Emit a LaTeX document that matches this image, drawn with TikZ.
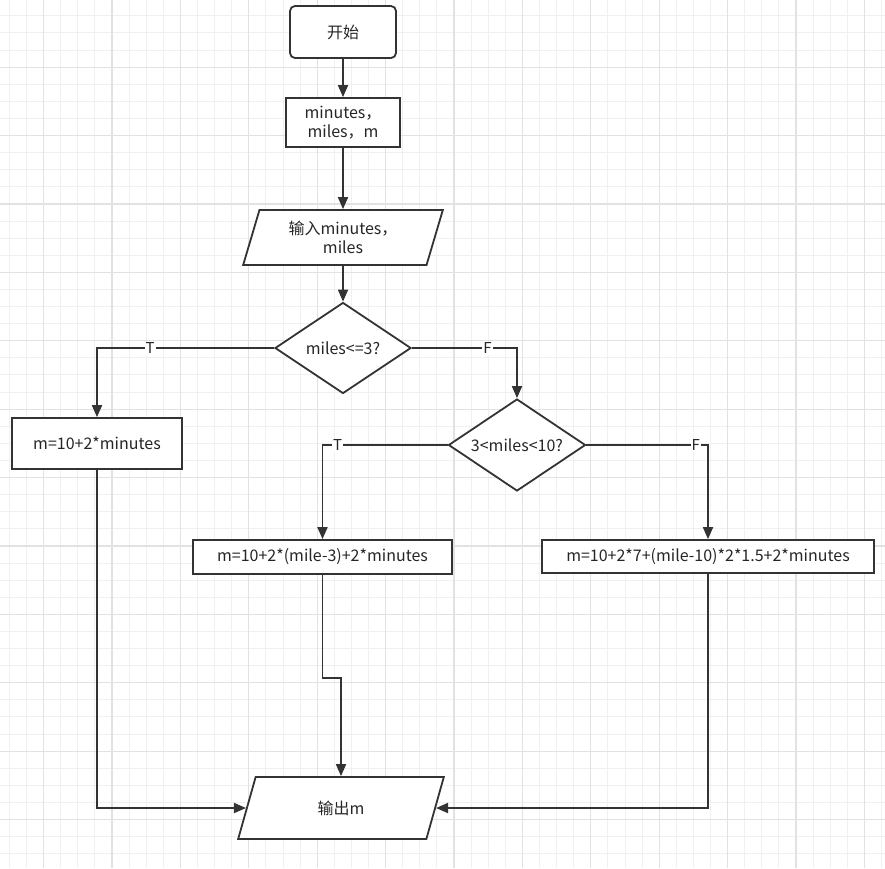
\documentclass[tikz,border=0pt]{standalone}
\usepackage{fontspec}
\setmainfont{Noto Sans CJK SC}
\usepackage{tikz}
\usetikzlibrary{positioning, arrows.meta, shapes.geometric}
\definecolor{lineGray}{HTML}{333333}
\definecolor{gridMinor}{HTML}{F0F0F0}
\definecolor{gridMajor}{HTML}{E2E2E2}
\tikzset{%
  >={Triangle[width=10pt,length=12pt]},
  % Specifications for style of nodes:
            base/.style = {rectangle, draw=lineGray, line width=1.8pt, fill=white,
                           inner sep=0pt, text centered, align=center,
                           text=black!85, font=\fontsize{16}{19}\selectfont},
            startstop/.style = {base, rounded corners=5pt},
            process/.style = {base},
            io/.style = {base, trapezium, trapezium left angle=72,
                         trapezium right angle=108, trapezium stretches=true},
            decision/.style = {base, diamond, aspect=1.5},
            flow/.style = {->, draw=lineGray, line width=1.8pt},
            branch/.style = {fill=white, inner sep=1pt, text=black!85,
                             font=\fontsize{15}{15}\selectfont},
 }

\begin{document}
\begin{tikzpicture}[x=1pt, y=1pt]
  \useasboundingbox (0,0) rectangle (885,-868);
  \fill[white] (0,0) rectangle (885,-868);
  % background grid
  \foreach \k in {0,...,51}
     \draw[gridMinor, line width=1pt] ({9.4+17.1*\k},0) -- ++(0,-868);
  \foreach \k in {1,...,50}
     \draw[gridMinor, line width=1pt] (0,{1.3-17.1*\k}) -- ++(885,0);
  \foreach \k in {0,...,12}
     \draw[gridMajor, line width=1.2pt] ({43.6+68.4*\k},0) -- ++(0,-868);
  \foreach \k in {1,...,12}
     \draw[gridMajor, line width=1.2pt] (0,{1.3-68.4*\k}) -- ++(885,0);

  % Specification of nodes (position, etc.)
     \node (start) [startstop, minimum width=106pt, minimum height=52pt] at (343,-32) {开始};
     \node (vars) [process, minimum width=114pt, minimum height=49pt] at (343,-122.5) {minutes，\\miles，m};
     \node (input) [io, minimum width=200pt, minimum height=55pt] at (343,-237.5) {输入minutes，\\miles};
     \node (milesSel) [decision, minimum width=136pt, minimum height=91pt] at (343,-348) {miles<=3?};

     \node (calcShort) [process, minimum width=170pt, minimum height=51pt] at (97,-443.5) {m=10+2*minutes};
     \node (milesMid) [decision, minimum width=137pt, minimum height=92pt] at (517,-445) {3<miles<10?};
     \node (calcMid) [process, minimum width=259pt, minimum height=34pt] at (322.5,-557) {m=10+2*(mile-3)+2*minutes};
     \node (calcLong) [process, minimum width=332pt, minimum height=33pt] at (708,-556.5) {m=10+2*7+(mile-10)*2*1.5+2*minutes};

     \node (output) [io, minimum width=206pt, minimum height=62pt] at (341,-808) {输出m};


     \draw[flow] (start) -- (vars);
     \draw[flow] (vars) -- (input);
     \draw[flow] (input) -- (milesSel);

     \draw[flow] (milesSel.west) -| node[branch, pos=0.35] {T} (calcShort.north);
     \draw[flow] (milesSel.east) -| node[branch, pos=0.36] {F} (milesMid.north);

     \draw[flow] (milesMid.west) -| node[branch, pos=0.44] {T} (calcMid.north);
     \draw[flow] (milesMid.east) -| node[branch, pos=0.45] {F} (calcLong.north);

     \draw[flow] (calcShort.south) |- (output);
     \draw[flow] (calcMid.south) --+(0,-103) -| (output);
     \draw[flow] (calcLong.south) |- (output);

   \end{tikzpicture}
\end{document}
